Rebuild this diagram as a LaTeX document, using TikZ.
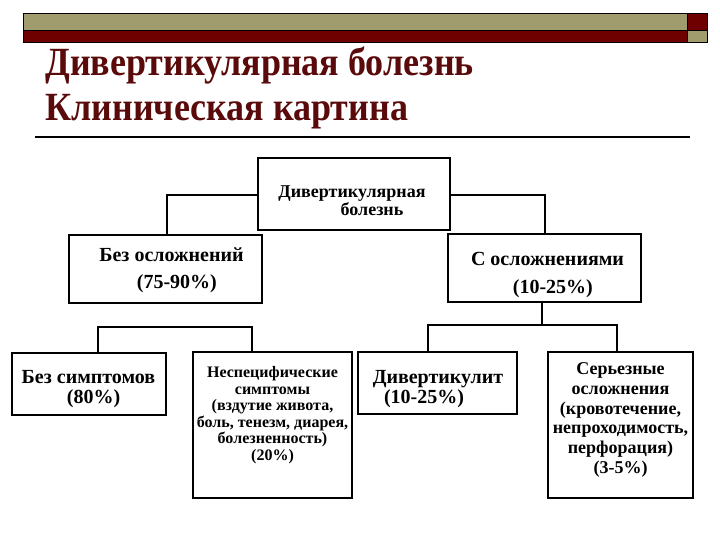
\documentclass[tikz,border=0pt]{standalone}
\usepackage{fontspec}
\setmainfont{Liberation Serif}
\usetikzlibrary{fit}
\definecolor{olivebar}{RGB}{160,156,110}
\definecolor{maroonbar}{RGB}{110,0,0}
\definecolor{titlecol}{RGB}{90,10,10}
\tikzset{
  box/.style={draw=black, line width=0.9pt, inner sep=0pt},
  txt/.style={inner sep=0pt, align=center},
  link/.style={draw=black, line width=0.8pt},
  bar/.style={draw=black, line width=0.6pt},
  ttl/.style={anchor=base west, inner sep=0pt, text=titlecol, font=\fontsize{30pt}{36pt}\selectfont\bfseries}
}
\begin{document}
\begin{tikzpicture}[x=0.75pt,y=-0.75pt]
\useasboundingbox (0,0) rectangle (720,540);
% header bars
\fill[olivebar] (23,13) rectangle (687,30);
\fill[maroonbar] (23,30) rectangle (687,42);
\fill[maroonbar] (687,13) rectangle (707,30);
\fill[olivebar] (687,30) rectangle (707,42);
\draw[bar] (23,13) rectangle (707,42);
\draw[bar] (687,13) -- (687,42);
\draw[bar] (23,30) -- (707,30);
% title
\node[ttl] (t1) at (45,75) {\scalebox{0.9}[1]{Дивертикулярная болезнь}};
\node[ttl] (t2) at (45,120) {\scalebox{0.9}[1]{Клиническая картина}};
\draw[line width=0.8pt] (35,137) -- (690,137);
% boxes
\node[box, fit={(258,158)(450,230)}] (root) {};
\node[box, fit={(69,235)(262,303)}] (b1) {};
\node[box, fit={(448,234)(641,302)}] (b2) {};
\node[box, fit={(12,353)(166,415)}] (c1) {};
\node[box, fit={(193,352)(352,498)}] (c2) {};
\node[box, fit={(358,352)(517,414)}] (c3) {};
\node[box, fit={(548,352)(693,498)}] (c4) {};
% texts
\node[txt, font=\fontsize{13.5pt}{13.5pt}\selectfont\bfseries] (rootT) at (352,201) {Дивертикулярная\\\hspace*{30pt}болезнь};
\node[txt, font=\fontsize{15pt}{20.25pt}\selectfont\bfseries] (b1T) at (171.5,270) {Без осложнений\\\hspace*{8pt}(75-90\%)};
\node[txt, font=\fontsize{15pt}{21pt}\selectfont\bfseries] (b2T) at (547.5,275) {С осложнениями\\\hspace*{8pt}(10-25\%)};
\node[txt, font=\fontsize{15pt}{15pt}\selectfont\bfseries] (c1T) at (88.5,389) {Без симптомов\\\hspace*{7.5pt}(80\%)};
\node[txt, font=\fontsize{12pt}{12.4pt}\selectfont\bfseries] (c2T) at (272.5,415) {Неспецифические\\симптомы\\(вздутие живота,\\боль, тенезм, диарея,\\болезненность)\\(20\%)};
\node[txt, font=\fontsize{15pt}{15pt}\selectfont\bfseries] (c3T) at (438,389) {Дивертикулит\\(10-25\%)\hspace*{21pt}};
\node[txt, font=\fontsize{13.5pt}{14.8pt}\selectfont\bfseries] (c4T) at (620.5,420) {Серьезные\\осложнения\\(кровотечение,\\непроходимость,\\перфорация)\\(3-5\%)};
% connectors
\coordinate (jl) at (98,327);
\coordinate (jr) at (252,327);
\coordinate (kl) at (428,325);
\coordinate (kr) at (617,325);
\coordinate (km) at (542,325);
\draw[link] (root.west |- 0,195) -| (167,0 |- b1.north);
\draw[link] (root.east |- 0,195) -| (545,0 |- b2.north);
\draw[link] (c1.north -| jl) -- (jl) -- (jr) -- (c2.north -| jr);
\draw[link] (b2.south -| km) -- (km);
\draw[link] (c3.north -| kl) -- (kl) -- (kr) -- (c4.north -| kr);
\end{tikzpicture}
\end{document}
